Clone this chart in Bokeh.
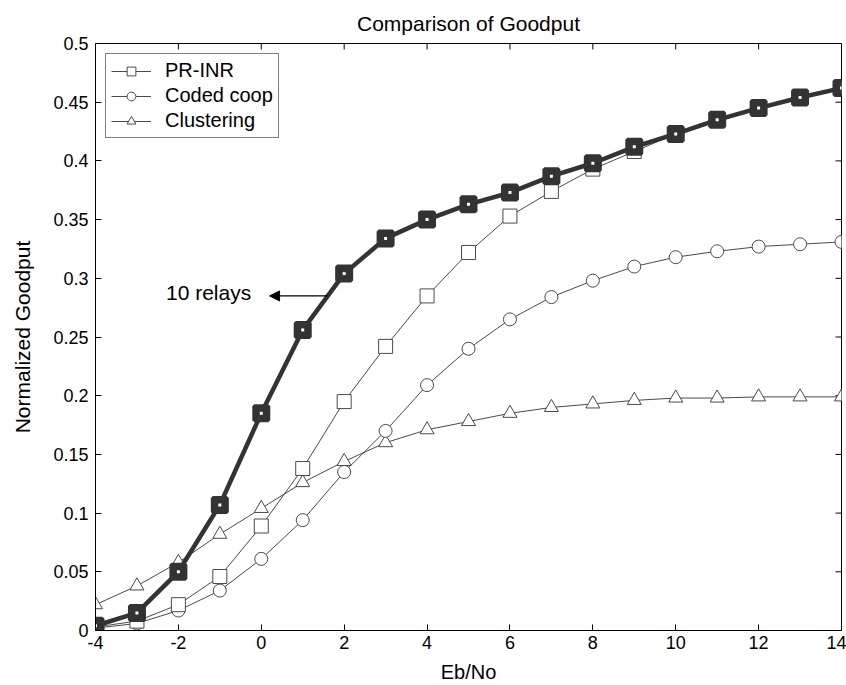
import math
from bokeh.plotting import figure
from bokeh.models import (Range1d, FixedTicker, Legend, LegendItem,
                          Arrow, NormalHead, Label)
from bokeh.embed import file_html
from bokeh.resources import INLINE

# ---- data ----
ebno = [-4, -3, -2, -1, 0, 1, 2, 3, 4, 5, 6, 7, 8, 9, 10, 11, 12, 13, 14]
pr_inr_10 = [0.004, 0.015, 0.050, 0.107, 0.185, 0.256, 0.304, 0.334, 0.350, 0.363,
             0.373, 0.387, 0.398, 0.412, 0.423, 0.435, 0.445, 0.454, 0.462]
pr_inr = [0.003, 0.008, 0.022, 0.046, 0.089, 0.138, 0.195, 0.242, 0.285, 0.322,
          0.353, 0.374, 0.393, 0.408, 0.423, 0.435, 0.445, 0.454, 0.462]
coded_coop = [0.002, 0.006, 0.017, 0.034, 0.061, 0.094, 0.135, 0.170, 0.209, 0.240,
              0.265, 0.284, 0.298, 0.310, 0.318, 0.323, 0.327, 0.329, 0.331]
clustering = [0.022, 0.038, 0.058, 0.082, 0.104, 0.126, 0.144, 0.160, 0.171, 0.178,
              0.185, 0.190, 0.193, 0.196, 0.198, 0.198, 0.199, 0.199, 0.199]
x_ticks = [-4, -2, 0, 2, 4, 6, 8, 10, 12, 14]
x_tick_labels = ["-4", "-2", "0", "2", "4", "6", "8", "10", "12", "14"]
y_ticks = [0, 0.05, 0.1, 0.15, 0.2, 0.25, 0.3, 0.35, 0.4, 0.45, 0.5]
x_min, x_max = -4, 14
y_min, y_max = 0, 0.5
annot_text = "10 relays"
annot_x, annot_y = -2.3, 0.288
arrow_from = (1.6, 0.285)
arrow_to = (0.2, 0.285)

FONT = "Liberation Sans"
THIN = "#4a4a4a"
THICK = "#333333"

p = figure(width=846, height=685, output_backend="svg", toolbar_location=None,
           x_range=Range1d(x_min, x_max), y_range=Range1d(y_min, y_max),
           min_border_left=95, min_border_right=5, min_border_top=0,
           min_border_bottom=55, title="Comparison of Goodput")
p.title.align = "center"
p.title.text_font = FONT
p.title.text_font_size = "21px"
p.title.text_font_style = "normal"
p.title.text_color = "black"
p.title.standoff = 18
p.xgrid.visible = False
p.ygrid.visible = False
p.outline_line_color = "black"
p.outline_line_width = 1
p.background_fill_color = "white"
p.border_fill_color = "white"

for ax, ticks in ((p.xaxis[0], x_ticks), (p.yaxis[0], y_ticks)):
    ax.ticker = FixedTicker(ticks=ticks)
    ax.major_tick_in = 6
    ax.major_tick_out = 0
    ax.minor_tick_in = 0
    ax.minor_tick_out = 0
    ax.major_label_text_font = FONT
    ax.major_label_text_font_size = "18px"
    ax.major_label_text_color = "black"
    ax.axis_label_text_font = FONT
    ax.axis_label_text_font_style = "normal"
    ax.axis_label_text_color = "black"
    ax.axis_line_color = "black"
p.xaxis[0].major_label_overrides = {t: s for t, s in zip(x_ticks, x_tick_labels)}
p.xaxis[0].axis_label = "Eb/No"
p.yaxis[0].axis_label = "Normalized Goodput"
p.xaxis[0].axis_label_text_font_size = "20px"
p.yaxis[0].axis_label_text_font_size = "21px"
p.xaxis[0].major_label_standoff = 5
p.xaxis[0].axis_label_standoff = 9
p.yaxis[0].major_label_standoff = 7
p.yaxis[0].axis_label_standoff = 16

# mirrored inward ticks on top and right edges (clipped to the frame)
p.scatter(x_ticks, [y_max] * len(x_ticks), marker="dash", angle=math.pi / 2,
          size=12, line_color="black", line_width=1)
p.scatter([x_max] * len(y_ticks), y_ticks, marker="dash",
          size=12, line_color="black", line_width=1)

# thin curves
l1 = p.line(ebno, clustering, line_color=THIN, line_width=1)
m1 = p.scatter(ebno, clustering, marker="triangle", size=14, line_color=THIN,
               fill_color="white", line_width=1)
l2 = p.line(ebno, coded_coop, line_color=THIN, line_width=1)
m2 = p.scatter(ebno, coded_coop, marker="circle", size=13, line_color=THIN,
               fill_color="white", line_width=1)
l3 = p.line(ebno, pr_inr, line_color=THIN, line_width=1)
m3 = p.scatter(ebno, pr_inr, marker="square", size=14, line_color=THIN,
               fill_color="white", line_width=1)
# thick 10-relay curve
p.line(ebno, pr_inr_10, line_color=THICK, line_width=4.5)
p.scatter(ebno, pr_inr_10, marker="square", size=14, line_color=THICK,
          fill_color=THICK, line_width=4)
p.scatter(ebno, pr_inr_10, marker="square", size=3, line_color=None,
          fill_color="white")

# annotation
p.add_layout(Arrow(end=NormalHead(size=10, fill_color="black", line_color="black"),
                   x_start=arrow_from[0], y_start=arrow_from[1],
                   x_end=arrow_to[0], y_end=arrow_to[1],
                   line_color="black", line_width=1.2))
p.add_layout(Label(x=annot_x, y=annot_y, text=annot_text, text_font=FONT,
                   text_font_size="21px", text_baseline="middle", text_align="left",
                   text_color="black"))

legend = Legend(items=[LegendItem(label="PR-INR", renderers=[l3, m3]),
                       LegendItem(label="Coded coop", renderers=[l2, m2]),
                       LegendItem(label="Clustering", renderers=[l1, m1])],
                location="top_left")
legend.border_line_color = "black"
legend.border_line_width = 1
legend.label_text_font = FONT
legend.label_text_font_size = "20px"
legend.label_text_color = "black"
legend.glyph_width = 40
legend.glyph_height = 22
legend.label_height = 22
legend.spacing = 2
legend.padding = 5
legend.margin = 10
legend.label_standoff = 14
legend.background_fill_alpha = 1
p.add_layout(legend)

open("out.html", "w").write(file_html(p, INLINE))
